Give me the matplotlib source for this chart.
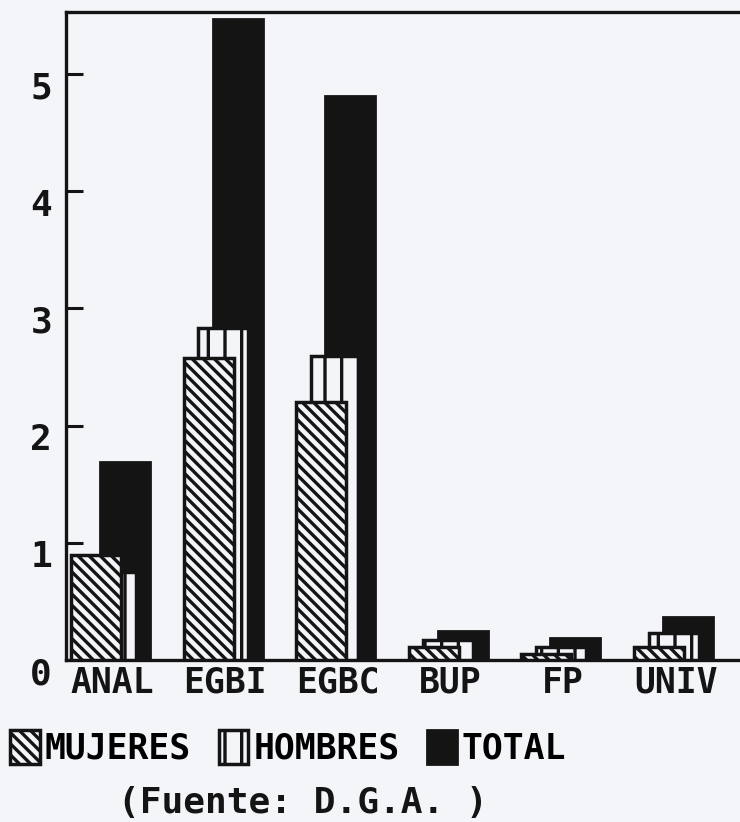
import numpy as np
import matplotlib
matplotlib.use("Agg")
import matplotlib.pyplot as plt
from matplotlib.transforms import ScaledTranslation

# datos (tasas, fuente D.G.A.)
categorias = ["ANAL", "EGBI", "EGBC", "BUP", "FP", "UNIV"]
mujeres = [0.90, 2.58, 2.20, 0.11, 0.05, 0.11]
hombres = [0.75, 2.83, 2.59, 0.17, 0.11, 0.23]
total = [1.69, 5.47, 4.81, 0.25, 0.19, 0.37]
yticks = [0, 1, 2, 3, 4, 5]

fondo = "#f3f5f9"
negro = "#141414"
mono = "DejaVu Sans Mono"

plt.rcParams["hatch.linewidth"] = 2.4
plt.rcParams["hatch.color"] = negro

fig = plt.figure(figsize=(7.4, 8.22), dpi=100, facecolor=fondo)
ax = fig.add_axes([66 / 740, 1 - 660 / 822, 694 / 740, 648 / 822])
ax.set_facecolor(fondo)

x = np.arange(len(categorias))
w = 50 / 112.6
o = 14.5 / 112.6

b_tot = ax.bar(x + 2 * o, total, w, align="edge", color=negro, edgecolor=negro,
               linewidth=2, label="TOTAL", zorder=2)
b_hom = ax.bar(x + o, hombres, w, align="edge", color=fondo, edgecolor=negro,
               linewidth=2.5, hatch="|", label="HOMBRES", zorder=3)
b_muj = ax.bar(x, mujeres, w, align="edge", color=fondo, edgecolor=negro,
               linewidth=2.5, hatch="\\\\\\", label="MUJERES", zorder=4)

ax.set_xlim(-5 / 112.6, 689 / 112.6)
ax.set_ylim(0, 648 / 117.2)

for s in ["left", "top", "bottom"]:
    ax.spines[s].set_linewidth(2.4)
    ax.spines[s].set_color(negro)
ax.spines["right"].set_visible(False)

ax.set_yticks(yticks)
ax.set_yticklabels([str(v) for v in yticks], fontfamily=mono,
                   fontweight="bold", fontsize=26, color=negro)
ax.tick_params(axis="y", direction="in", length=12, width=2.2, pad=10, colors=negro)
for lab in ax.get_yticklabels():
    lab.set_transform(lab.get_transform() + ScaledTranslation(0, -0.11, fig.dpi_scale_trans))

ax.set_xticks(x + 0.37)
ax.set_xticklabels(categorias, fontfamily=mono, fontweight="bold", fontsize=25, color=negro)
ax.tick_params(axis="x", length=0, pad=4)

fig.legend(handles=[b_muj, b_hom, b_tot], labels=["MUJERES", "HOMBRES", "TOTAL"],
           loc="center left", bbox_to_anchor=(10 / 740, 1 - 748 / 822), ncol=3,
           frameon=False, handlelength=0.85, handleheight=1.1, handletextpad=0.15,
           columnspacing=0.8, borderaxespad=0, borderpad=0,
           prop={"family": mono, "weight": "bold", "size": 25})

fig.text(118 / 740, 1 - 803 / 822, "(Fuente: D.G.A. )", fontfamily=mono,
         fontweight="bold", fontsize=26, color=negro, va="center", ha="left")

fig.savefig("out.png", dpi=100, facecolor=fondo)
